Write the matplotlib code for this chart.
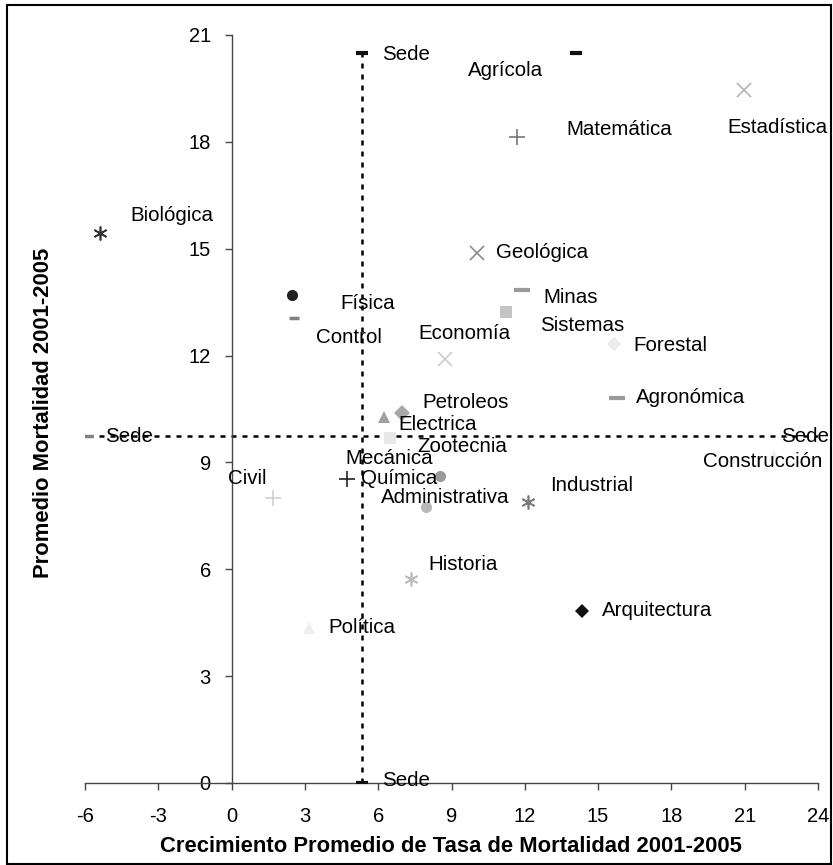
import matplotlib
matplotlib.use("Agg")
import matplotlib.pyplot as plt
from matplotlib.patches import Rectangle

plt.rcParams['font.family'] = ['Liberation Sans', 'DejaVu Sans']

# ---- data ----
names = ["Agrícola", "Estadística", "Matemática", "Biológica", "Geológica", "Minas",
         "Sistemas", "Física", "Control", "Economía", "Forestal", "Agronómica",
         "Petroleos", "Electrica", "Zootecnia", "Mecánica", "Química", "Administrativa",
         "Civil", "Industrial", "Construcción", "Historia", "Política", "Arquitectura"]
x_vals = [14.1, 20.97, 11.68, -5.39, 10.04, 11.9,
          11.23, 2.47, 2.56, 8.74, 15.66, 15.78,
          6.98, 6.24, 6.48, 8.53, 4.72, 7.96,
          1.69, 12.14, 22.2, 7.35, 3.17, 14.35]
y_vals = [20.5, 19.45, 18.14, 15.44, 14.88, 13.84,
          13.22, 13.7, 13.05, 11.9, 12.32, 10.81,
          10.39, 10.28, 9.69, 8.62, 8.53, 7.75,
          7.99, 7.89, 9.2, 5.73, 4.35, 4.83]

sede_x = 5.35          # average growth (vertical reference)
sede_y = 9.74          # average mortality (horizontal reference)
sede_v_y = [0.0, 20.5]
sede_h_x = [-5.88, 24.0]

x_ticks = [-6, -3, 0, 3, 6, 9, 12, 15, 18, 21, 24]
y_ticks = [0, 3, 6, 9, 12, 15, 18, 21]

# ---- styles (marker, colour, size, edge width) ----
styles = {
    "Agrícola": ("_", "#111111", 8, 3.0),
    "Estadística": ("x", "#b4b4b4", 10, 1.2),
    "Matemática": ("+", "#777777", 11, 1.2),
    "Biológica": ((6, 2, 0), "#333333", 10, 1.2),
    "Geológica": ("x", "#8a8a8a", 10, 1.2),
    "Minas": ("_", "#9a9a9a", 11, 3.0),
    "Sistemas": ("s", "#c4c4c4", 8, 0),
    "Física": ("o", "#222222", 8, 0),
    "Control": ("_", "#808080", 7, 2.5),
    "Economía": ("x", "#cccccc", 10, 1.2),
    "Forestal": ("D", "#ebebeb", 7, 0),
    "Agronómica": ("_", "#9a9a9a", 11, 3.0),
    "Petroleos": ("D", "#a8a8a8", 8, 0),
    "Electrica": ("^", "#a0a0a0", 9, 0),
    "Zootecnia": ("s", "#e8e8e8", 8, 0),
    "Mecánica": ("o", "#9a9a9a", 8, 0),
    "Química": ("+", "#222222", 11, 1.2),
    "Administrativa": ("o", "#b8b8b8", 8, 0),
    "Civil": ("+", "#cfcfcf", 11, 1.2),
    "Industrial": ((6, 2, 0), "#7a7a7a", 10, 1.2),
    "Construcción": ("^", "#eeeeee", 7, 0),
    "Historia": ((6, 2, 0), "#bcbcbc", 10, 1.2),
    "Política": ("^", "#eeeeee", 9, 0),
    "Arquitectura": ("D", "#111111", 7, 0),
}
# label offsets in pixels (dx, dy) relative to marker
offsets = {
    "Agrícola": (-108, -18), "Estadística": (-17, -37), "Matemática": (49, 7),
    "Biológica": (30, 18), "Geológica": (19, 0), "Minas": (21, -7),
    "Sistemas": (34, -13), "Física": (48, -8), "Control": (22, -19),
    "Economía": (-27, 26), "Forestal": (19, -1), "Agronómica": (19, 0),
    "Petroleos": (20, 10), "Electrica": (14, -8), "Zootecnia": (27, -9),
    "Mecánica": (-95, 17), "Química": (14, 1), "Administrativa": (-45, 9),
    "Civil": (-45, 20), "Industrial": (22, 16), "Construcción": (-71, -6),
    "Historia": (17, 14), "Política": (19, 1), "Arquitectura": (20, 0),
}

W, H = 833, 865
fig = plt.figure(figsize=(W / 100, H / 100), dpi=100)
ax = fig.add_axes([85 / W, 1 - 783 / H, (818 - 85) / W, (783 - 35) / H])

ax.set_xlim(-6, 24)
ax.set_ylim(0, 21)

# reference lines
dash = (0, (2.0, 2.4))
ax.plot([sede_x, sede_x], sede_v_y, color="black", lw=1.8, linestyle=dash, zorder=2)
ax.plot(sede_h_x, [sede_y, sede_y], color="black", lw=1.8, linestyle=dash, zorder=2)
ax.plot([sede_x, sede_x], sede_v_y, linestyle="none", marker="_", color="#111111",
        markersize=9, markeredgewidth=3, zorder=3)
ax.plot([sede_h_x[0]], [sede_y], linestyle="none", marker="_", color="#808080",
        markersize=7, markeredgewidth=2.5, zorder=3)

fs = 14.8
ax.annotate("Sede", (sede_x, sede_v_y[1]), xytext=(20, -2), textcoords="offset pixels",
            va="center", ha="left", fontsize=fs)
ax.annotate("Sede", (sede_x, sede_v_y[0]), xytext=(20, 3), textcoords="offset pixels",
            va="center", ha="left", fontsize=fs)
ax.annotate("Sede", (sede_h_x[0], sede_y), xytext=(17, 0), textcoords="offset pixels",
            va="center", ha="left", fontsize=fs)
ax.annotate("Sede", (sede_h_x[1], sede_y), xytext=(-37, 0), textcoords="offset pixels",
            va="center", ha="left", fontsize=fs, annotation_clip=False)

for n, xv, yv in zip(names, x_vals, y_vals):
    m, c, s, ew = styles[n]
    ax.plot([xv], [yv], linestyle="none", marker=m, color=c, markersize=s,
            markeredgewidth=ew, zorder=3, clip_on=False)
    dx, dy = offsets[n]
    ax.annotate(n, (xv, yv), xytext=(dx, dy), textcoords="offset pixels",
                va="center", ha="left", fontsize=fs, zorder=4, annotation_clip=False)

# axes styling
ax.spines["top"].set_visible(False)
ax.spines["right"].set_visible(False)
ax.spines["left"].set_position(("data", 0))
ax.spines["left"].set_color("#444444")
ax.spines["bottom"].set_color("#444444")
ax.spines["left"].set_linewidth(1.0)
ax.spines["bottom"].set_linewidth(1.0)
ax.set_xticks(x_ticks)
ax.set_yticks(y_ticks)
ax.set_xticklabels([str(v) for v in x_ticks])
ax.set_yticklabels([str(v) for v in y_ticks])
ax.tick_params(axis="both", direction="out", length=5, width=1.0, color="#444444",
               labelsize=14.5)
ax.tick_params(axis="x", pad=12)
ax.tick_params(axis="y", pad=10)

fig.text(451 / W, 1 - 846 / H, "Crecimiento Promedio de Tasa de Mortalidad 2001-2005",
         ha="center", va="center", fontsize=15.8, fontweight="bold")
fig.text(44 / W, 1 - 413 / H, "Promedio Mortalidad 2001-2005", rotation=90,
         ha="center", va="center", fontsize=15.8, fontweight="bold")

# figure border
fig.patches.append(Rectangle((7 / W, 1 - 864 / H), (831 - 7) / W, (864 - 5) / H,
                             transform=fig.transFigure, fill=False, edgecolor="black",
                             linewidth=1.5))

fig.savefig("out.png", dpi=100)
